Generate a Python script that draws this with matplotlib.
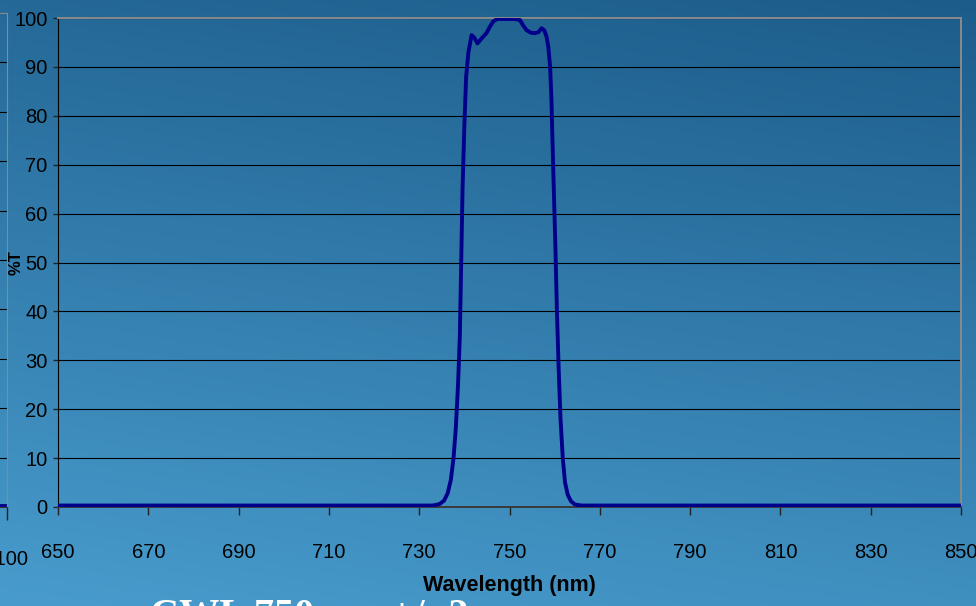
import numpy as np
import matplotlib
matplotlib.use("Agg")
import matplotlib.pyplot as plt
from matplotlib import font_manager

# Transmission curve
wavelength = [650, 700, 733, 734.5, 735.5, 736.3, 737.0, 737.6, 738.1, 738.6,
              739.0, 739.3, 739.6, 740.0, 740.4, 740.9, 741.6, 742.2, 742.9, 743.8,
              744.9, 745.7, 746.4, 747.3, 749.0, 751.0, 752.3, 753.0, 753.8, 754.7,
              755.6, 756.4, 757.1, 757.7, 758.2, 758.6, 759.0, 759.3, 759.6, 759.9,
              760.2, 760.5, 760.9, 761.3, 761.8, 762.3, 762.9, 763.6, 764.5, 766,
              800, 850]
transmission = [0.3, 0.3, 0.3, 0.6, 1.3, 2.8, 5.5, 10, 16, 25,
                35, 50, 65, 78, 88, 93, 96.5, 96.0, 94.8, 95.8,
                96.9, 98.3, 99.3, 99.8, 99.8, 99.8, 99.6, 98.5, 97.5, 97.0,
                96.9, 97.1, 97.9, 97.5, 96.2, 94, 90, 83, 72, 62,
                52, 40, 28, 18, 10, 5, 2.5, 1.2, 0.5, 0.3,
                0.3, 0.3]

x_ticks = list(range(650, 851, 20))
y_ticks = list(range(0, 101, 10))

# neighbouring chart that is cut off on the left
left_x = [900, 1100]
left_y = [0.3, 0.3]
left_ticks = [1100]

# pick a narrow sans font if there is one
available = {f.name for f in font_manager.fontManager.ttflist}
narrow = "DejaVu Sans"
for name in ["Liberation Sans Narrow", "DejaVu Sans Condensed", "Liberation Sans"]:
    if name in available:
        narrow = name
        break

W, H = 976, 606
fig = plt.figure(figsize=(W / 100, H / 100), dpi=100)

# background gradient (dark top-right, light bottom-left)
bg = fig.add_axes([0, 0, 1, 1], zorder=-10)
yy, xx = np.mgrid[0:1:200j, 0:1:300j]
t = 0.8 * yy + 0.2 * (1 - xx)
c0 = np.array([28, 92, 138]) / 255
c1 = np.array([72, 156, 205]) / 255
img = c0[None, None, :] * (1 - t[..., None]) + c1[None, None, :] * t[..., None]
bg.imshow(img, extent=[0, 1, 0, 1], aspect="auto", origin="upper")
bg.axis("off")

line_color = "#00008b"

# main chart
ax = fig.add_axes([58 / W, (H - 507) / H, 903 / W, 489 / H])
ax.set_facecolor("none")
ax.plot(wavelength, transmission, color=line_color, lw=2.8, solid_joinstyle="round", zorder=3)
ax.set_xlim(650, 850)
ax.set_ylim(0, 100)
ax.set_xticks(x_ticks)
ax.set_yticks(y_ticks)
ax.yaxis.grid(True, color="black", lw=0.8)
ax.set_axisbelow(True)
ax.spines["top"].set_color("#8a8a8a")
ax.spines["right"].set_color("#8a8a8a")
ax.spines["top"].set_linewidth(1.4)
ax.spines["right"].set_linewidth(1.4)
ax.spines["left"].set_color("black")
ax.spines["bottom"].set_color("#3a3a3a")
ax.spines["bottom"].set_linewidth(1.4)
ax.tick_params(axis="x", direction="out", length=6, width=1, color="#222222", pad=20)
ax.tick_params(axis="y", direction="out", length=3.5, width=1, color="#222222", pad=4)
for lab in ax.get_xticklabels() + ax.get_yticklabels():
    lab.set_fontfamily(narrow)
    lab.set_fontsize(14.5)
    lab.set_color("black")

fig.text(509 / W, (H - 585) / H, "Wavelength (nm)", family=narrow, weight="bold",
         fontsize=15.5, ha="center", va="center")
fig.text(16 / W, (H - 263) / H, "%T", family=narrow, weight="bold",
         fontsize=12, rotation=90, ha="center", va="center")

# cut-off chart at the left edge
axl = fig.add_axes([-200 / W, (H - 507) / H, 207 / W, 494 / H])
axl.set_facecolor("none")
axl.plot(left_x, left_y, color=line_color, lw=2.8)
axl.set_xlim(900, 1100)
axl.set_ylim(0, 100)
axl.set_xticks(left_ticks)
axl.set_xticklabels(["1100"])
axl.set_yticks(y_ticks)
axl.yaxis.grid(True, color="black", lw=0.8)
axl.spines["left"].set_visible(False)
axl.spines["top"].set_color("#8a8a8a")
axl.spines["right"].set_color("#8a8a8a")
axl.spines["bottom"].set_color("#3a3a3a")
axl.tick_params(axis="x", direction="out", length=9, width=1, color="#222222", pad=22)
axl.tick_params(axis="y", left=False, labelleft=False)
for lab in axl.get_xticklabels():
    lab.set_fontfamily(narrow)
    lab.set_fontsize(14.5)

# caption cut off at the bottom
fig.text(150 / W, (H - 626) / H, "CWL 750 nm +/- 2 nm", family="Liberation Serif",
         weight="bold", fontsize=29, color="white", va="baseline", ha="left")

fig.savefig("out.png", dpi=100)
